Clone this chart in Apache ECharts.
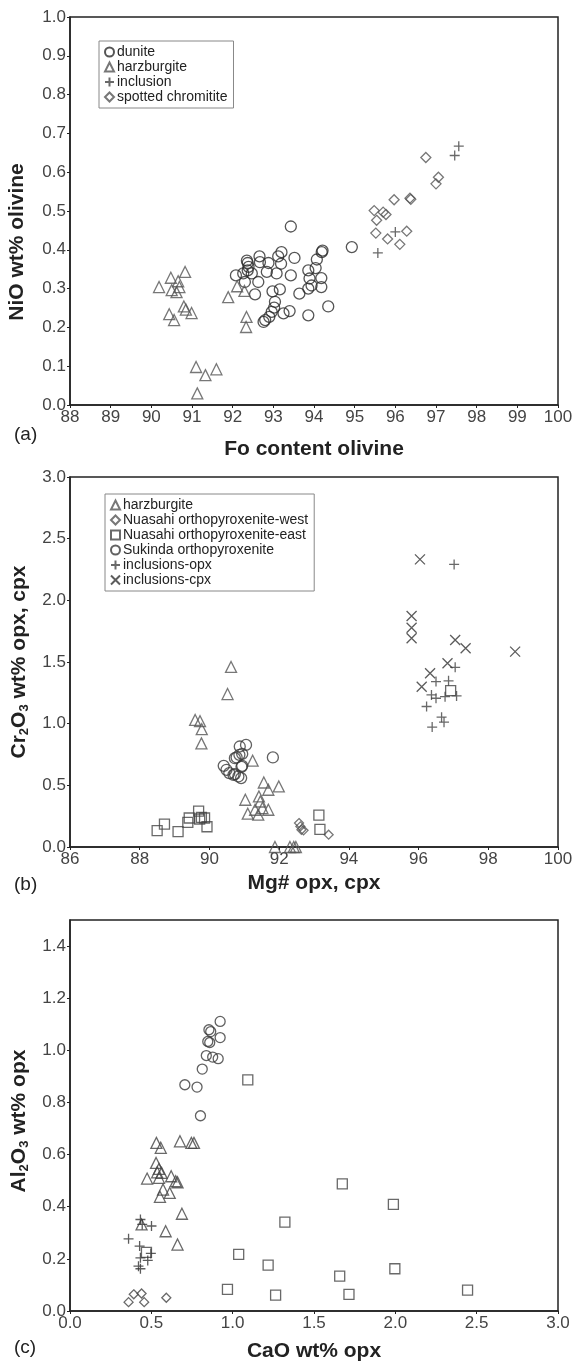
<!DOCTYPE html>
<html>
<head>
<meta charset="utf-8">
<script src="https://cdn.jsdelivr.net/npm/echarts@6/dist/echarts.min.js"></script>
<style>
html, body { margin: 0; padding: 0; background: #fff; }
#chart { width: 581px; height: 1363px; }
</style>
</head>
<body>
<div id="chart"></div>
<script>
// (a) NiO vs Fo in olivine
var aDunite = [[93.43,0.46],[92.37,0.366],[92.39,0.356],[92.37,0.347],[92.35,0.372],[92.08,0.334],[92.26,0.339],[92.47,0.339],
	[92.30,0.317],[92.63,0.317],[92.55,0.285],[92.66,0.383],[92.67,0.368],[92.88,0.366],[92.84,0.343],[93.08,0.339],
	[93.12,0.383],[93.20,0.394],[93.19,0.364],[93.52,0.379],[93.43,0.334],[92.98,0.293],[93.16,0.298],[93.04,0.266],
	[93.02,0.251],[92.96,0.240],[92.90,0.227],[92.80,0.219],[92.76,0.214],[93.25,0.236],[93.40,0.242],[93.86,0.231],
	[94.35,0.254],[93.64,0.287],[93.86,0.300],[93.89,0.326],[93.86,0.347],[94.04,0.353],[94.07,0.375],[94.19,0.394],
	[94.21,0.398],[94.18,0.327],[94.18,0.304],[93.94,0.308],[94.93,0.407]];
var aHarz = [[90.19,0.304],[90.48,0.328],[90.66,0.319],[90.83,0.343],[90.50,0.296],[90.62,0.291],[90.69,0.304],
	[90.80,0.254],[90.85,0.246],[90.99,0.237],[90.44,0.234],[90.56,0.219],[91.89,0.278],[92.11,0.306],[92.29,0.294],
	[92.34,0.227],[92.33,0.201],[91.10,0.098],[91.33,0.077],[91.60,0.092],[91.13,0.03]];
var aIncl = [[95.57,0.392],[96.0,0.446],[97.46,0.643],[97.56,0.667]];
var aSpotted = [[96.75,0.638],[97.06,0.587],[97.00,0.570],[95.97,0.529],[96.36,0.533],[96.38,0.53],[95.48,0.501],
	[95.70,0.497],[95.77,0.491],[95.54,0.476],[95.52,0.443],[95.81,0.428],[96.28,0.448],[96.11,0.414]];

// (b) Cr2O3 vs Mg#
var bHarz = [[90.62,1.46],[90.52,1.24],[89.59,1.03],[89.73,1.02],[89.78,0.955],[89.77,0.84],[91.24,0.70],[91.56,0.523],
	[91.69,0.464],[91.99,0.491],[91.03,0.383],[91.42,0.41],[91.46,0.369],[91.31,0.302],[91.52,0.316],[91.69,0.302],
	[91.10,0.27],[91.40,0.262],[91.88,0],[92.31,0],[92.42,0],[92.48,0]];
var bWest = [[92.57,0.194],[92.61,0.167],[92.64,0.14],[92.70,0.135],[93.42,0.10]];
var bEast = [[88.50,0.132],[88.71,0.186],[89.10,0.124],[89.38,0.199],[89.42,0.235],[89.69,0.291],[89.77,0.24],
	[89.86,0.235],[89.93,0.164],[89.72,0.227],[93.14,0.259],[93.17,0.143],[96.92,1.268]];
var bSukinda = [[90.87,0.815],[91.05,0.828],[90.78,0.726],[90.94,0.755],[90.86,0.747],[90.73,0.72],[91.82,0.726],
	[90.41,0.658],[90.49,0.626],[90.57,0.599],[90.73,0.591],[90.91,0.559],[90.94,0.658],[90.83,0.572],[90.69,0.585],[90.92,0.65]];
var bInclOpx = [[97.02,2.291],[97.05,1.457],[96.50,1.341],[96.86,1.347],[96.37,1.233],[96.50,1.206],[96.76,1.219],
	[97.09,1.225],[96.23,1.139],[96.66,1.053],[96.73,1.012],[96.39,0.972]];
var bInclCpx = [[96.04,2.332],[95.80,1.873],[95.80,1.778],[95.80,1.692],[97.05,1.679],[97.35,1.611],[98.77,1.584],
	[96.83,1.49],[96.33,1.409],[96.09,1.30]];

// (c) Al2O3 vs CaO in opx
var cHarz = [[0.531,0.645],[0.558,0.626],[0.676,0.651],[0.746,0.645],[0.762,0.645],[0.529,0.568],[0.547,0.545],
	[0.536,0.532],[0.563,0.53],[0.474,0.508],[0.547,0.511],[0.622,0.517],[0.65,0.498],[0.661,0.494],[0.572,0.466],
	[0.613,0.453],[0.553,0.438],[0.688,0.373],[0.588,0.306],[0.661,0.255],[0.44,0.332]];
var cWest = [[0.36,0.034],[0.392,0.064],[0.44,0.067],[0.456,0.034],[0.592,0.051]];
var cEast = [[1.093,0.887],[0.47,0.225],[1.674,0.488],[1.988,0.409],[1.321,0.341],[1.037,0.217],[1.218,0.176],
	[1.658,0.134],[1.997,0.162],[0.968,0.083],[1.264,0.061],[1.715,0.064],[2.444,0.08]];
var cSukinda = [[0.923,1.111],[0.854,1.079],[0.865,1.072],[0.923,1.049],[0.847,1.034],[0.859,1.030],[0.838,0.980],
	[0.877,0.974],[0.911,0.968],[0.813,0.928],[0.706,0.868],[0.781,0.859],[0.802,0.749]];
var cInclOpx = [[0.433,0.351],[0.444,0.332],[0.501,0.326],[0.36,0.277],[0.428,0.249],[0.497,0.221],[0.433,0.204],
	[0.478,0.194],[0.421,0.172],[0.433,0.162]];

var legendA = ["dunite", "harzburgite", "inclusion", "spotted chromitite"];
var legendB = ["harzburgite", "Nuasahi orthopyroxenite-west", "Nuasahi orthopyroxenite-east",
	"Sukinda orthopyroxenite", "inclusions-opx", "inclusions-cpx"];
var xNames = ["Fo content olivine", "Mg# opx, cpx", "CaO wt% opx"];
var panelLabels = ["(a)", "(b)", "(c)"];

var FONT = "Liberation Sans";
var PLUS = "path://M0,5L10,5M5,0L5,10";
var CROSS = "path://M0,0L10,10M10,0L0,10";

var chart = echarts.init(document.getElementById("chart"));

function fixed1(v){ return v.toFixed(1); }

function xAxisOf(gi, min, max, step, fmt, name, gap){
	return {
		type: "value", gridIndex: gi, min: min, max: max, interval: step,
		name: name, nameLocation: "middle", nameGap: gap,
		nameTextStyle: { fontFamily: FONT, fontSize: 21, fontWeight: "bold", color: "#222" },
		axisLine: { onZero: false, lineStyle: { color: "#222", width: 1.5 } },
		axisTick: { show: true, length: 3, lineStyle: { color: "#222" } },
		axisLabel: { fontFamily: FONT, fontSize: 17, color: "#444", margin: 4, formatter: fmt },
		splitLine: { show: false }
	};
}
function yAxisOf(gi, min, max, step, showMax){
	return {
		type: "value", gridIndex: gi, min: min, max: max, interval: step,
		axisLine: { onZero: false, lineStyle: { color: "#222", width: 1.5 } },
		axisTick: { show: true, length: 3, lineStyle: { color: "#222" } },
		axisLabel: { fontFamily: FONT, fontSize: 17, color: "#444", margin: 4, formatter: fixed1, showMaxLabel: showMax },
		splitLine: { show: false }
	};
}
function pts(name, data, symbol, size, gi, ink){
	return {
		type: "scatter", name: name, data: data, symbol: symbol, symbolSize: size,
		xAxisIndex: gi, yAxisIndex: gi, clip: false,
		itemStyle: { color: "rgba(0,0,0,0)", borderColor: ink, borderWidth: 1.3 },
		emphasis: { disabled: true }
	};
}
function legendOf(names, left, top, lh){
	return {
		data: names, orient: "vertical", left: left, top: top,
		itemWidth: 9, itemHeight: 9, itemGap: 1, padding: [4, 6, 4, 5],
		borderColor: "#888", borderWidth: 1, selectedMode: false,
		textStyle: { fontFamily: FONT, fontSize: 14, color: "#222", lineHeight: lh, padding: [0, 0, 0, -2] }
	};
}
function yTitle(x, y, text){
	return {
		type: "text", x: x, y: y, rotation: Math.PI / 2,
		style: {
			text: text, align: "center", verticalAlign: "middle",
			rich: {
				n: { fontFamily: FONT, fontSize: 21, fontWeight: "bold", fill: "#222", lineHeight: 24 },
				s: { fontFamily: FONT, fontSize: 13, fontWeight: "bold", fill: "#222", lineHeight: 10, verticalAlign: "bottom" }
			}
		}
	};
}
function panelTag(y, text){
	return { type: "text", x: 14, y: y, style: { text: text, font: "19px " + FONT, fill: "#222", verticalAlign: "middle" } };
}

var option = {
	animation: false,
	backgroundColor: "#fff",
	grid: [
		{ left: 70, top: 17, width: 488, height: 388, show: true, borderColor: "#222", borderWidth: 1.5 },
		{ left: 70, top: 477, width: 488, height: 370, show: true, borderColor: "#222", borderWidth: 1.5 },
		{ left: 70, top: 920, width: 488, height: 392, show: true, borderColor: "#222", borderWidth: 1.5 }
	],
	xAxis: [
		xAxisOf(0, 88, 100, 1, function(v){ return String(v); }, xNames[0], 34),
		xAxisOf(1, 86, 100, 2, function(v){ return String(v); }, xNames[1], 26),
		xAxisOf(2, 0, 3, 0.5, fixed1, xNames[2], 30)
	],
	yAxis: [
		yAxisOf(0, 0, 1, 0.1, true),
		yAxisOf(1, 0, 3, 0.5, true),
		yAxisOf(2, 0, 1.5, 0.2, false)
	],
	legend: [
		legendOf(legendA, 99, 41, 14),
		legendOf(legendB, 105, 494, 13)
	],
	graphic: [
		yTitle(17, 242, "{n|NiO wt% olivine}"),
		yTitle(19, 662, "{n|Cr}{s|2}{n|O}{s|3}{n| wt% opx, cpx}"),
		yTitle(19, 1121, "{n|Al}{s|2}{n|O}{s|3}{n| wt% opx}"),
		panelTag(435, panelLabels[0]),
		panelTag(885, panelLabels[1]),
		panelTag(1348, panelLabels[2])
	],
	series: [
		pts("dunite", aDunite, "circle", 11, 0, "#2a2a2a"),
		pts("harzburgite", aHarz, "triangle", 11, 0, "#555"),
		pts("inclusion", aIncl, PLUS, 10, 0, "#444"),
		pts("spotted chromitite", aSpotted, "diamond", 10, 0, "#555"),

		pts("harzburgite", bHarz, "triangle", 11, 1, "#555"),
		pts("Nuasahi orthopyroxenite-west", bWest, "diamond", 9, 1, "#555"),
		pts("Nuasahi orthopyroxenite-east", bEast, "rect", 10, 1, "#444"),
		pts("Sukinda orthopyroxenite", bSukinda, "circle", 11, 1, "#3a3a3a"),
		pts("inclusions-opx", bInclOpx, PLUS, 10, 1, "#444"),
		pts("inclusions-cpx", bInclCpx, CROSS, 10, 1, "#333"),

		pts("harzburgite", cHarz, "triangle", 11, 2, "#444"),
		pts("Nuasahi orthopyroxenite-west", cWest, "diamond", 9, 2, "#444"),
		pts("Nuasahi orthopyroxenite-east", cEast, "rect", 10, 2, "#444"),
		pts("Sukinda orthopyroxenite", cSukinda, "circle", 10, 2, "#3a3a3a"),
		pts("inclusions-opx", cInclOpx, PLUS, 10, 2, "#333")
	]
};
chart.setOption(option);
</script>
</body>
</html>
